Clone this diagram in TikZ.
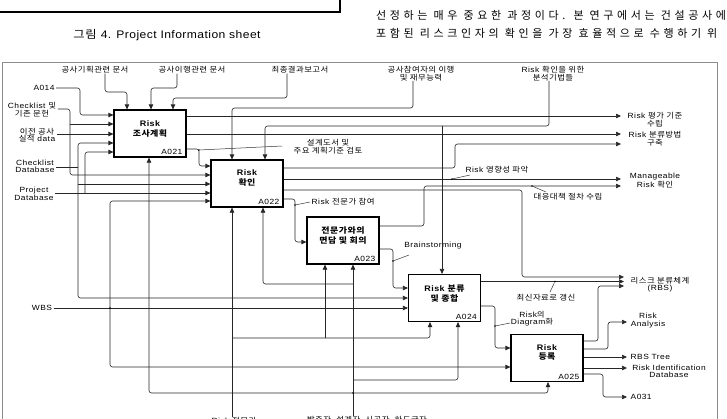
\documentclass[tikz,border=0pt]{standalone}
\usepackage{fontspec}
\setmainfont{Liberation Sans}[FakeStretch=1.12,LetterSpace=6]
\newfontfamily\kr{Noto Sans CJK KR}[FakeStretch=1.12,LetterSpace=6]
\newfontfamily\bodykr{Noto Sans CJK KR}[LetterSpace=33]
\newfontfamily\caplat{Liberation Sans}[FakeStretch=1.1,LetterSpace=4]
\newcommand\hk[1]{{\kr #1}}
\usetikzlibrary{arrows.meta,calc}
\begin{document}
\begin{tikzpicture}[x=1pt,y=-1pt,
  ln/.style={draw=black!85,line width=0.6pt,rounded corners=2.5pt},
  ar/.style={ln,-{Triangle[length=5pt,width=4.4pt]}},
  bx/.style={draw=black,line width=1.1pt,minimum width=72pt,minimum height=47pt,inner sep=0pt},
  lb/.style={inner ysep=0pt,inner xsep=1.5pt,align=center,font=\fontsize{7.5}{7.6}\selectfont},
  bt/.style={inner sep=0pt,align=center,font=\fontsize{8}{9.5}\selectfont\bfseries},
  bid/.style={inner sep=0pt,anchor=base east,font=\fontsize{7.5}{8}\selectfont},
  jd/.style={circle,fill=black,inner sep=0pt,minimum size=1.8pt},
  ld/.style={draw=black!80,line width=0.5pt}]
\useasboundingbox (0,0) rectangle (727,418);

% ---- page context ----
\draw[line width=1.6pt] (-3,12) -- (340,12) -- (340,-3);
\node[inner sep=0pt,font=\fontsize{11}{13}\selectfont] (cap) at (167,35) {\hk{그림} {\caplat 4. Project Information sheet}};
\node[inner sep=0pt,anchor=base west,font=\bodykr\fontsize{11}{12}\selectfont] (p1) at (376,19) {선정하는 매우 중요한 과정이다. 본 연구에서는 건설공사에};
\node[inner sep=0pt,anchor=base west,font=\bodykr\fontsize{11}{12}\selectfont] (p2) at (376,37) {포함된 리스크인자의 확인을 가장 효율적으로 수행하기 위};

% ---- frame ----
\draw[black!45,line width=0.7pt] (2,430) -- (2,62) -- (717,62) -- (717,430);

% ---- boxes ----
\node[bx] (a21) at (150,133.5) {};
\node[bx] (a22) at (247,183.5) {};
\node[bx] (a23) at (343,240.5) {};
\node[bx] (a24) at (444.5,298) {};
\node[bx] (a25) at (547,358) {};
\node[bt] (t21) at (150,129) {Risk\\\hk{조사계획}};
\node[bt] (t22) at (247,178) {Risk\\\hk{확인}};
\node[bt] (t23) at (343,235.5) {\hk{전문가와의}\\\hk{면담 및 회의}};
\node[bt] (t24) at (444.5,293.5) {Risk \hk{분류}\\\hk{및 종합}};
\node[bt] (t25) at (547,352.5) {Risk\\\hk{등록}};
\node[bid] (n21) at ($(a21.south east)+(-4,-3)$) {A021};
\node[bid] (n22) at ($(a22.south east)+(-4,-3)$) {A022};
\node[bid] (n23) at ($(a23.south east)+(-4,-3)$) {A023};
\node[bid] (n24) at ($(a24.south east)+(-4,-3)$) {A024};
\node[bid] (n25) at ($(a25.south east)+(-4,-3)$) {A025};

% ---- labels ----
\node[lb] (c1) at (95,70) {\hk{공사기획관련 문서}};
\node[lb] (c2) at (192,70) {\hk{공사이행관련 문서}};
\node[lb] (c3) at (300,70) {\hk{최종결과보고서}};
\node[lb] (c4) at (421,73.5) {\hk{공사참여자의 이행}\\\hk{및 재무능력}};
\node[lb] (c5) at (553,73.5) {Risk \hk{확인을 위한}\\\hk{분석기법들}};
\node[lb] (i1) at (44,88) {A014};
\node[lb] (i2) at (32,109.5) {Checklist \hk{및}\\\hk{기존 문헌}};
\node[lb] (i3) at (37,135) {\hk{이전 공사}\\\hk{실적} data};
\node[lb] (i4) at (35,166.5) {Checklist\\Database};
\node[lb] (i5) at (34,194) {Project\\Database};
\node[lb] (i6) at (42,308) {WBS};
\node[lb] (m1) at (234,420.5) {Risk \hk{전문가}};
\node[lb] (m2) at (367,420.5) {\hk{발주자, 설계자, 시공자, 하도급자}};
\node[lb] (o1) at (655,119.5) {Risk \hk{평가 기준}\\\hk{수립}};
\node[lb] (o2) at (655,138.5) {Risk \hk{분류방법}\\\hk{구축}};
\node[lb] (o3) at (655,180.5) {Manageable\\Risk \hk{확인}};
\node[lb] (o4) at (660,284.5) {\hk{리스크 분류체계}\\(RBS)};
\node[lb] (o5) at (648,320.5) {Risk\\Analysis};
\node[lb,anchor=west] (o6) at (629,357) {RBS Tree};
\node[lb] (o7) at (669,371.5) {Risk Identification\\Database};
\node[lb,anchor=west] (o8) at (629,397) {A031};
\node[lb] (l1) at (328,146.5) {\hk{설계도서 및}\\\hk{주요 계획기준 검토}};
\node[lb] (l2) at (497,170) {Risk \hk{영향성 파악}};
\node[lb] (l3) at (568,197) {\hk{대응대책 절차 수립}};
\node[lb,anchor=west] (l4) at (310,202) {Risk \hk{전문가 참여}};
\node[lb] (l5) at (433,246) {Brainstorming};
\node[lb] (l6) at (546,298) {\hk{최신자료로 갱신}};
\node[lb] (l7) at (532,318.5) {Risk\hk{의}\\Diagram\hk{화}};

% ---- controls ----
\draw[ar] (c1.south -| 105,0) -- (105,92) -- (127,92) -- (a21.north -| 127,0);
\draw[ar] (c2.south -| 177,0) -- (177,88) -- (151,88) -- (a21.north -| 151,0);
\draw[ar] (c3.south -| 287,0) -- (287,98) -- (173,98) -- (a21.north -| 173,0);
\draw[ar] (c4.south -| 413,0) -- (413,108) -- (232,108) -- (a22.north -| 232,0);
\draw[ar] (c5.south -| 549,0) -- (549,126) -- (265,126) -- (a22.north -| 265,0);
\draw[ar] (442,126) -- (a24.north -| 442,0);

% ---- inputs ----
\draw[ar] (i1.east) -- (80,88) -- (80,115) -- (a21.west |- 0,115);
\draw[ar] (i2.east |- 0,109) -- (70,109) -- (70,175) -- (a22.west |- 0,175);
\draw[ar] (70,124) -- (a21.west |- 0,124);
\draw[ar] (i3.east |- 0,134) -- (a21.west |- 0,134);
\draw[ln] (i4.east |- 0,167) -- (78,167);
\draw[ar] (78,167) -- (78,143) -- (a21.west |- 0,143);
\draw[ar] (78,167) -- (78,298) -- (a24.west |- 0,298);
\draw[ar] (78,184) -- (a22.west |- 0,184);
\draw[ar] (i5.east |- 0,193) -- (a22.west |- 0,193);
\draw[ar] (85,193) -- (85,152) -- (a21.west |- 0,152);
\draw[ar] (i6.east) -- (a24.west |- 0,308);
\draw[ar] (110,308) -- (110,201) -- (a22.west |- 0,201);
\draw[ar] (110,308) -- (110,367) -- (a25.west |- 0,367);
\node[jd] (j1) at (110,308) {};

% ---- mechanisms ----
\draw[ar] (m1.north -| 232,0) -- (a22.south -| 232,0);
\draw[ar] (232,338) -- (430,338) -- (a24.south -| 430,0);
\draw[ar] (325,338) -- (a23.south -| 325,0);
\draw[ar] (m2.north -| 353,0) -- (a23.south -| 353,0);
\draw[ar] (353,284) -- (263,284) -- (a22.south -| 263,0);
\draw[ar] (353,380) -- (458,380) -- (a24.south -| 458,0);
\draw[ar] (353,393) -- (149,393) -- (a21.south -| 149,0);
\draw[ar] (353,393) -- (548,393) -- (a25.south -| 548,0);
\node[jd] (j2) at (353,393) {};

% ---- outputs ----
\draw[ar] (a21.east |- 0,116) -- (621,116);
\draw[ar] (a21.east |- 0,134) -- (621,134);
\draw[ar] (a21.east |- 0,149) -- (199,149) -- (199,166) -- (a22.west |- 0,166);
\draw[ar] (a22.east |- 0,168) -- (455,168) -- (455,144) -- (621,144);
\draw[ar] (a22.east |- 0,179) -- (621,179);
\draw[ar] (a22.east |- 0,190) -- (522,190) -- (522,277) -- (624,277);
\draw[ar] (a22.east |- 0,199) -- (295,199) -- (295,242) -- (a23.west |- 0,242);
\draw[ar] (a23.east |- 0,226) -- (424,226) -- (424,186) -- (621,186);
\draw[ar] (a23.east |- 0,249) -- (393,249) -- (393,288) -- (a24.west |- 0,288);
\draw[ar] (a24.east |- 0,281.5) -- (624,281.5);
\draw[ar] (a24.east |- 0,306) -- (495,306) -- (495,348) -- (a25.west |- 0,348);
\draw[ar] (a25.east |- 0,341) -- (598,341) -- (598,286) -- (624,286);
\draw[ar] (a25.east |- 0,349) -- (608,349) -- (608,322) -- (627,322);
\draw[ar] (a25.east |- 0,357) -- (627,357);
\draw[ar] (a25.east |- 0,368) -- (627,368);
\draw[ar] (a25.east |- 0,374) -- (603,374) -- (603,397) -- (627,397);

% ---- label leaders ----
\node[jd] (d1) at (199,150) {};
\draw[ld] (d1) -- (282,146);
\node[jd] (d2) at (452,179) {};
\draw[ld] (d2) -- (470,175);
\node[jd] (d3) at (532,186) {};
\draw[ld] (d3) -- (546,192);
\node[jd] (d4) at (295,205) {};
\draw[ld] (d4) -- (l4.west);
\node[jd] (d5) at (393,261) {};
\draw[ld] (d5) -- (409,255);
\node[jd] (d6) at (555,281.5) {};
\draw[ld] (d6) -- (550,292);
\node[jd] (d7) at (495,326) {};
\draw[ld] (d7) -- (510,323);
\end{tikzpicture}
\end{document}
